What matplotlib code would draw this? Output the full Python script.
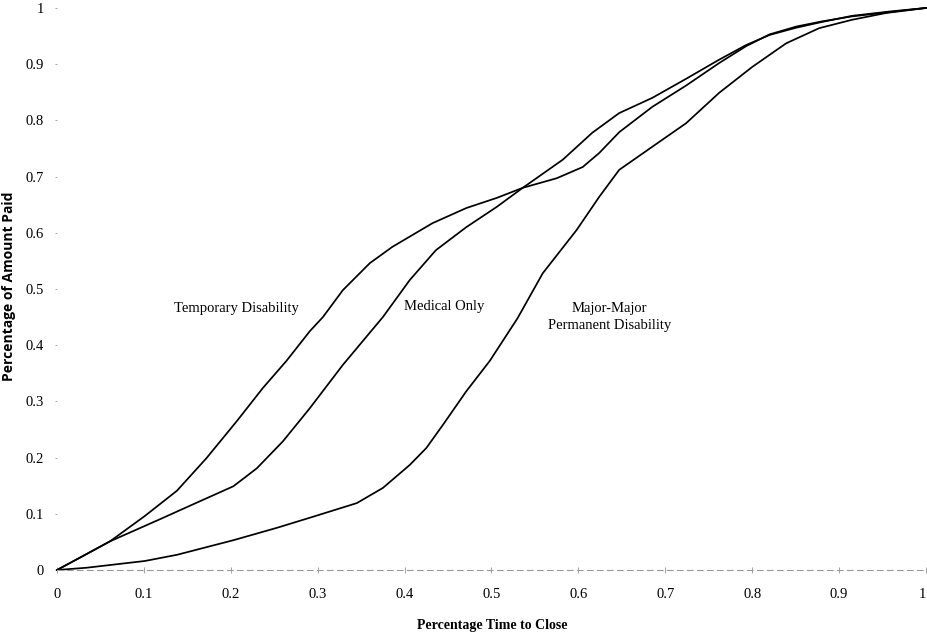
import numpy as np
import matplotlib
matplotlib.use("Agg")
import matplotlib.pyplot as plt

# Curves (x = share of time to close, y = share of amount paid)
temp_x = [0, 0.03, 0.061, 0.101, 0.138, 0.172, 0.207, 0.237, 0.264, 0.291, 0.306,
          0.329, 0.360, 0.386, 0.432, 0.471, 0.506, 0.536, 0.575, 0.605, 0.624,
          0.647, 0.685, 0.724, 0.762, 0.793, 0.820, 0.851, 0.880, 0.915, 0.960, 1.0]
temp_y = [0, 0.025, 0.051, 0.096, 0.141, 0.199, 0.265, 0.324, 0.372, 0.425, 0.450,
          0.498, 0.546, 0.575, 0.617, 0.644, 0.662, 0.680, 0.697, 0.717, 0.742,
          0.779, 0.824, 0.862, 0.902, 0.932, 0.953, 0.967, 0.976, 0.985, 0.993, 1.0]

med_x = [0, 0.03, 0.061, 0.118, 0.164, 0.203, 0.230, 0.260, 0.291, 0.329, 0.375,
         0.406, 0.436, 0.471, 0.506, 0.536, 0.582, 0.616, 0.647, 0.685, 0.724,
         0.762, 0.793, 0.820, 0.851, 0.880, 0.915, 0.960, 1.0]
med_y = [0, 0.025, 0.051, 0.090, 0.122, 0.149, 0.181, 0.229, 0.288, 0.365, 0.450,
         0.516, 0.569, 0.610, 0.646, 0.680, 0.730, 0.778, 0.813, 0.840, 0.874,
         0.908, 0.934, 0.952, 0.965, 0.975, 0.986, 0.994, 1.0]

major_x = [0, 0.034, 0.101, 0.138, 0.203, 0.253, 0.291, 0.345, 0.375, 0.406, 0.425,
           0.444, 0.471, 0.498, 0.530, 0.559, 0.598, 0.624, 0.647, 0.685, 0.724,
           0.762, 0.800, 0.839, 0.877, 0.915, 0.954, 1.0]
major_y = [0, 0.004, 0.016, 0.027, 0.053, 0.075, 0.093, 0.119, 0.146, 0.187, 0.217,
           0.258, 0.318, 0.372, 0.448, 0.528, 0.605, 0.664, 0.712, 0.753, 0.795,
           0.849, 0.895, 0.937, 0.964, 0.979, 0.991, 1.0]

ticks = [0, 0.1, 0.2, 0.3, 0.4, 0.5, 0.6, 0.7, 0.8, 0.9, 1]
tick_labels = ["0", "0.1", "0.2", "0.3", "0.4", "0.5", "0.6", "0.7", "0.8", "0.9", "1"]

plt.rcParams['font.family'] = ['Liberation Serif', 'DejaVu Serif']

fig = plt.figure(figsize=(9.27, 6.37), dpi=100)
ax = fig.add_axes([0.0615, 0.1052, 0.9374, 0.8823])

for xs, ys in [(temp_x, temp_y), (med_x, med_y), (major_x, major_y)]:
    ax.plot(xs, ys, color='black', lw=1.25, solid_joinstyle='round', clip_on=False)

ax.set_xlim(0, 1)
ax.set_ylim(0, 1)
ax.set_xticks(ticks)
ax.set_xticklabels(tick_labels, fontsize=10.5)
ax.set_yticks(ticks)
ax.set_yticklabels(tick_labels, fontsize=10.5)
# last x label sits on the right edge of the page; keep it inside
ax.get_xticklabels()[-1].set_horizontalalignment('right')

for side in ['top', 'right', 'left']:
    ax.spines[side].set_visible(False)
ax.spines['bottom'].set_linestyle((0, (5, 4)))
ax.spines['bottom'].set_color('0.6')
ax.spines['bottom'].set_linewidth(0.8)

ax.tick_params(axis='x', direction='inout', length=4, width=0.5, color='0.5', pad=11)
ax.tick_params(axis='y', direction='out', length=1.5, width=0.6, color='0.6', pad=8)

# curve labels
ax.text(0.207, 0.465, "Temporary Disability", fontsize=10.5, ha='center', va='center')
ax.text(0.446, 0.468, "Medical Only", fontsize=10.5, ha='center', va='center')
ax.text(0.636, 0.450, "Major-Major\nPermanent Disability", fontsize=10.5,
        ha='center', va='center', linespacing=1.35)

fig.text(492 / 927, 1 - 626 / 637, "Percentage Time to Close", fontsize=10,
         fontweight='bold', ha='center', va='center')
fig.text(9 / 927, 1 - 286 / 637, "Percentage of Amount Paid", fontsize=10,
         fontweight='bold', family='Open Sans', rotation=90, ha='center', va='center')

fig.savefig("out.png", dpi=100)
